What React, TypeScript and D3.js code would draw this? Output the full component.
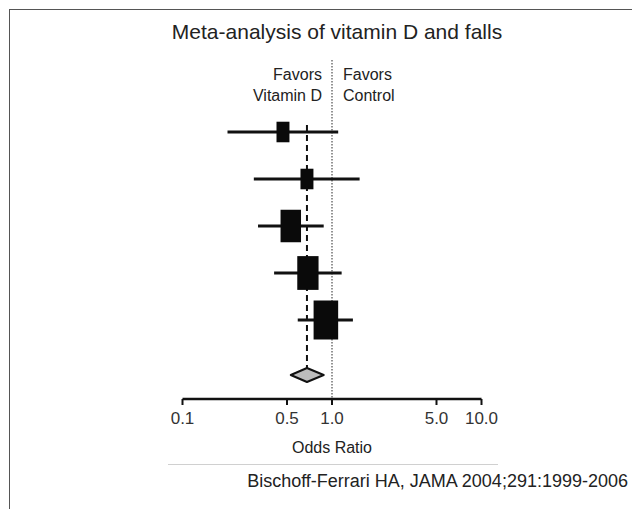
import React from "react";
import * as d3 from "d3";

// odds ratios
const oddsRatio = [0.47, 0.68, 0.53, 0.69, 0.91];
const ciLow = [0.2, 0.3, 0.32, 0.41, 0.59];
const ciHigh = [1.1, 1.53, 0.88, 1.16, 1.38];
const studyWeight = [10, 10, 25, 27, 36];

const pooledOR = 0.68;
const pooledLow = 0.53;
const pooledHigh = 0.88;

const tickValues = [0.1, 0.5, 1.0, 5.0, 10.0];
const tickLabels = ["0.1", "0.5", "1.0", "5.0", "10.0"];

const title = "Meta-analysis of vitamin D and falls";
const leftLabel = ["Favors", "Vitamin D"];
const rightLabel = ["Favors", "Control"];
const axisTitle = "Odds Ratio";
const citation = "Bischoff-Ferrari HA, JAMA 2004;291:1999-2006";

const W = 632;
const H = 509;
const font = "'Liberation Sans', Arial, sans-serif";

export default function App() {
  const x = d3.scaleLog().domain([0.1, 10]).range([182.5, 481.5]);
  const y = d3.scaleLinear().domain([0, 4]).range([132, 320]);
  const hScale = d3.scaleSqrt().domain([0, 36]).range([0, 39]);
  const axisY = 399;
  const pooledY = y(5.17);
  const dh = 7;

  const diamond = [
    [x(pooledLow), pooledY],
    [x(pooledOR), pooledY - dh],
    [x(pooledHigh), pooledY],
    [x(pooledOR), pooledY + dh],
  ];

  return (
    <svg width={W} height={H} style={{ position: "absolute", left: 0, top: 0, background: "#fff" }}>
      <rect x={9.5} y={9.5} width={W + 10} height={H + 10} fill="#fff" stroke="#555" strokeWidth={1} />

      <text x={337} y={39} textAnchor="middle" fontFamily={font} fontSize={21} fill="#222">{title}</text>

      {leftLabel.map((t, i) => (
        <text key={"l" + i} x={322} y={79.5 + i * 21} textAnchor="end" fontFamily={font} fontSize={16} fill="#222">{t}</text>
      ))}
      {rightLabel.map((t, i) => (
        <text key={"r" + i} x={343} y={79.5 + i * 21} fontFamily={font} fontSize={16} fill="#222">{t}</text>
      ))}

      {/* line of no effect */}
      <line x1={x(1)} x2={x(1)} y1={60} y2={axisY} stroke="#666" strokeWidth={1.4} strokeDasharray="1.5,1.5" />
      {/* pooled estimate */}
      <line x1={x(pooledOR)} x2={x(pooledOR)} y1={125} y2={pooledY - dh} stroke="#111" strokeWidth={2} strokeDasharray="6,4" />

      {oddsRatio.map((or, i) => {
        const h = hScale(studyWeight[i]);
        const w = h * 0.63;
        return (
          <g key={i}>
            <line x1={x(ciLow[i])} x2={x(ciHigh[i])} y1={y(i)} y2={y(i)} stroke="#111" strokeWidth={3} />
            <rect x={x(or) - w / 2} y={y(i) - h / 2} width={w} height={h} fill="#0a0a0a" />
          </g>
        );
      })}

      <polygon points={diamond.map((p) => p.join(",")).join(" ")} fill="#bdbdbd" stroke="#111" strokeWidth={2} strokeLinejoin="round" />

      {/* axis */}
      <line x1={x(0.1)} x2={x(10)} y1={axisY} y2={axisY} stroke="#111" strokeWidth={2.5} />
      {tickValues.map((v, i) => (
        <g key={"t" + i}>
          <line x1={x(v)} x2={x(v)} y1={axisY} y2={axisY + 6} stroke="#111" strokeWidth={2} />
          <text x={x(v)} y={424} textAnchor="middle" fontFamily="'Liberation Sans Narrow', 'Liberation Sans', Arial, sans-serif" fontSize={17} fill="#333">{tickLabels[i]}</text>
        </g>
      ))}

      <text x={x(1)} y={453} textAnchor="middle" fontFamily={font} fontSize={16} fill="#222">{axisTitle}</text>
      <line x1={168} x2={498} y1={464.5} y2={464.5} stroke="#d0d0d0" strokeWidth={1} />
      <text x={628} y={487} textAnchor="end" fontFamily={font} fontSize={18} fill="#222">{citation}</text>
    </svg>
  );
}
